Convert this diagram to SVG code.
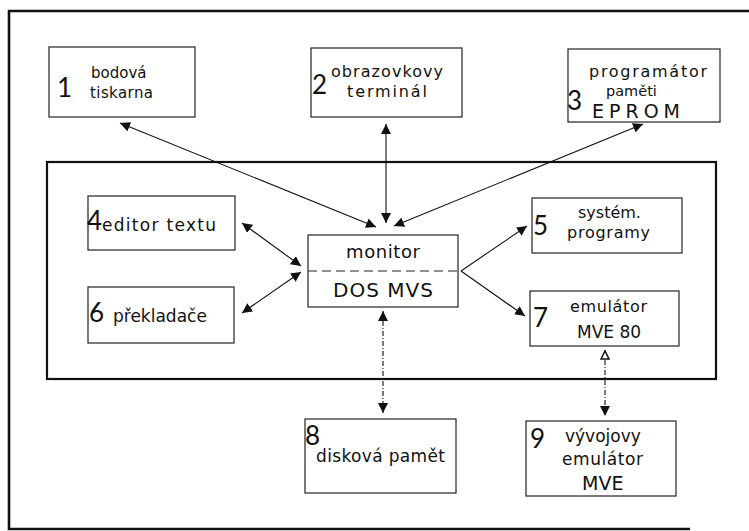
<svg xmlns="http://www.w3.org/2000/svg" width="749" height="531" viewBox="0 0 749 531">
<style>
.frame{fill:none;stroke:#111;stroke-width:2.6}
.inner{fill:none;stroke:#111;stroke-width:2.2}
.box{fill:#fff;stroke:#222;stroke-width:1.2}
.t{font-family:"DejaVu Sans","Open Sans",sans-serif;font-size:16px;fill:#111}
.s{font-size:17px}
.n{font-family:"Lato","Open Sans","Noto Sans",sans-serif;font-size:26px;fill:#111}
.c{fill:none;stroke:#111;stroke-width:1.1}
.d{fill:none;stroke:#111;stroke-width:1.1;stroke-dasharray:5 2 1 2}
</style>
<defs>
<marker id="ah" viewBox="0 0 10 10" refX="10" refY="5" markerWidth="10" markerHeight="10" markerUnits="userSpaceOnUse" orient="auto-start-reverse">
<path d="M0,0 L10,5 L0,10 z" fill="#111"/>
</marker>
<marker id="ao" viewBox="0 0 10 10" refX="10" refY="5" markerWidth="10" markerHeight="10" markerUnits="userSpaceOnUse" orient="auto-start-reverse">
<path d="M1,1 L9,5 L1,9 z" fill="#fff" stroke="#111" stroke-width="1.5"/>
</marker>
</defs>
<rect width="749" height="531" fill="#fff"/>
<g id="frame">
<path class="frame" d="M749,11 L9,11 L9,529 L690,529"/>
<rect class="inner" x="47" y="162" width="669" height="217"/>
</g>
<g id="connectors">
<line class="c" x1="120" y1="123" x2="376" y2="227" marker-start="url(#ah)" marker-end="url(#ah)"/>
<line class="c" x1="386" y1="124" x2="386" y2="223" marker-start="url(#ah)" marker-end="url(#ah)"/>
<line class="c" x1="643" y1="124" x2="394" y2="226" marker-start="url(#ah)" marker-end="url(#ah)"/>
<line class="c" x1="242" y1="223" x2="301" y2="266" marker-start="url(#ah)" marker-end="url(#ah)"/>
<line class="c" x1="242" y1="313" x2="301" y2="272" marker-start="url(#ah)" marker-end="url(#ah)"/>
<line class="c" x1="461" y1="271" x2="527" y2="226" marker-end="url(#ah)"/>
<line class="c" x1="461" y1="271" x2="525" y2="316" marker-end="url(#ah)"/>
<line class="d" x1="383" y1="311" x2="383" y2="413" marker-start="url(#ah)" marker-end="url(#ah)"/>
<line class="d" x1="605" y1="350" x2="605" y2="416" marker-start="url(#ao)" marker-end="url(#ah)"/>
</g>
<g id="node1">
<rect class="box" x="49" y="47" width="146" height="70"/>
<text class="n" x="57" y="97">1</text>
<text class="t" x="91" y="78" style="font-size:15px">bodová</text>
<text class="t" x="90" y="98" style="font-size:15px" textLength="63" lengthAdjust="spacing">tiskarna</text>
</g>
<g id="node2">
<rect class="box" x="311" y="48" width="151" height="69"/>
<text class="n" x="312" y="94">2</text>
<text class="t" x="331" y="77" textLength="112" lengthAdjust="spacing">obrazovkovy</text>
<text class="t" x="347" y="97" textLength="80" lengthAdjust="spacing">terminál</text>
</g>
<g id="node3">
<rect class="box" x="568" y="49" width="152" height="73"/>
<text class="n" x="567" y="110">3</text>
<text class="t" x="589" y="77" textLength="118" lengthAdjust="spacing">programátor</text>
<text class="t" x="606" y="96" style="font-size:14.5px">paměti</text>
<text class="t" x="592" y="118" style="font-size:19px" textLength="88" lengthAdjust="spacing">EPROM</text>
</g>
<g id="node4">
<rect class="box" x="88" y="196" width="147" height="54"/>
<text class="n" x="87" y="230">4</text>
<text class="t s" x="102" y="231" textLength="114" lengthAdjust="spacing">editor textu</text>
</g>
<g id="node6">
<rect class="box" x="88" y="287" width="146" height="56"/>
<text class="n" x="89" y="322">6</text>
<text class="t s" x="113" y="322">překladače</text>
</g>
<g id="monitor">
<rect class="box" x="308" y="235" width="150" height="72"/>
<line x1="308" y1="271" x2="458" y2="271" stroke="#222" stroke-width="1.2" stroke-dasharray="9 5"/>
<text class="t" x="346" y="258" style="font-size:18px" textLength="74" lengthAdjust="spacing">monitor</text>
<text class="t" x="333" y="297" style="font-size:20px" textLength="100" lengthAdjust="spacing">DOS MVS</text>
</g>
<g id="node5">
<rect class="box" x="532" y="198" width="150" height="55"/>
<text class="n" x="533" y="235">5</text>
<text class="t" x="578" y="218">systém.</text>
<text class="t" x="567" y="238" textLength="83" lengthAdjust="spacing">programy</text>
</g>
<g id="node7">
<rect class="box" x="530" y="291" width="149" height="55"/>
<text class="n" x="533" y="327">7</text>
<text class="t" x="570" y="312" textLength="77" lengthAdjust="spacing">emulátor</text>
<text class="t s" x="577" y="338">MVE 80</text>
</g>
<g id="node8">
<rect class="box" x="305" y="419" width="151" height="74"/>
<text class="n" x="305" y="445">8</text>
<text class="t s" x="316" y="462" textLength="129" lengthAdjust="spacing">disková pamět</text>
</g>
<g id="node9">
<rect class="box" x="526" y="421" width="150" height="75"/>
<text class="n" x="530" y="448">9</text>
<text class="t s" x="565" y="442">vývojovy</text>
<text class="t s" x="562" y="465" textLength="81" lengthAdjust="spacing">emulátor</text>
<text class="t" x="582" y="490" style="font-size:19px">MVE</text>
</g>
</svg>
